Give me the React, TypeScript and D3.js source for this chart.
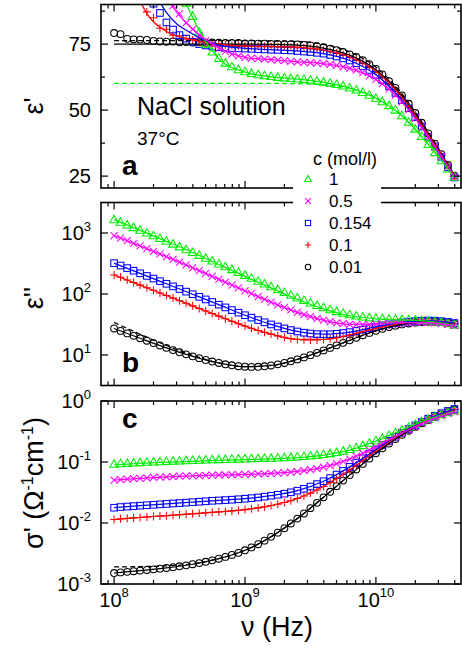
import React from 'react';
import * as d3 from 'd3';

// Measured frequencies (GHz), 20 points per decade
const FREQ_GHZ = [
  0.1, 0.112, 0.126, 0.141, 0.158, 0.178, 0.2, 0.224, 0.251, 0.282, 0.316, 0.355, 0.398, 0.447, 0.501, 0.562, 0.631, 0.708, 0.794, 0.891,
  1, 1.12, 1.26, 1.41, 1.58, 1.78, 2, 2.24, 2.51, 2.82, 3.16, 3.55, 3.98, 4.47, 5.01, 5.62, 6.31, 7.08, 7.94, 8.91,
  10, 11.2, 12.6, 14.1, 15.8, 17.8, 20, 22.4, 25.1, 28.2, 31.6, 35.5, 39.8,
];
// Frequencies at which the model curves are tabulated (GHz)
const FIT_GHZ = [0.1, 0.158, 0.251, 0.398, 0.631, 1, 1.58, 2.51, 3.98, 6.31, 10, 15.8, 25.1, 39.8];

// Concentrations (mol/l)
const CONC = ['1', '0.5', '0.154', '0.1', '0.01'];

// ---- eps' (real permittivity) ----
const EPS1_1 = [380, 310, 255, 210, 175, 148, 127, 112, 104, 99, 94.5, 90.5, 85.5, 79.5, 75.0, 72.0, 69.6, 67.8, 66.4, 65.3,
  64.5, 63.9, 63.4, 63.0, 62.7, 62.4, 62.2, 62.0, 61.8, 61.6, 61.3, 61.0, 60.6, 60.2, 59.7, 59.1, 58.4, 57.6, 56.7, 55.6,
  54.5, 53.2, 51.7, 50.0, 47.9, 45.4, 42.8, 40.0, 37.0, 33.9, 30.8, 27.7, 24.6];
const EPS1_05 = [160, 145, 132, 121, 112, 105, 99, 95, 92, 89.6, 86.5, 83.0, 80.6, 78.2, 76.3, 74.9, 73.3, 72.2, 71.2, 70.5,
  70.0, 69.7, 69.5, 69.3, 69.1, 68.9, 68.7, 68.5, 68.3, 68.1, 67.9, 67.8, 67.6, 67.3, 66.9, 66.4, 65.8, 65.1, 64.2, 63.0,
  61.6, 60.0, 58.0, 55.7, 53.1, 50.2, 47.0, 43.5, 39.9, 36.2, 32.4, 28.6, 24.8];
const EPS1_0154 = [135, 124, 114, 106, 99, 94, 90.3, 86.8, 83.2, 80.5, 78.4, 77.1, 75.9, 75.0, 74.5, 74.1, 73.8, 73.6, 73.5, 73.4,
  73.3, 73.2, 73.1, 73.0, 72.9, 72.8, 72.7, 72.6, 72.4, 72.2, 72.0, 71.7, 71.4, 70.9, 70.3, 69.6, 68.8, 67.8, 66.6, 65.2,
  63.4, 61.4, 59.0, 56.5, 53.8, 50.7, 47.3, 43.8, 39.9, 36.2, 32.3, 28.3, 24.5];
const EPS1_01 = [118, 109, 101, 95, 91.3, 87.2, 85.0, 81.0, 80.6, 78.4, 78.2, 77.0, 76.6, 75.8, 75.6, 75.1, 74.9, 74.8, 74.5, 74.4,
  74.3, 74.2, 74.2, 74.1, 74.1, 74.0, 74.0, 73.9, 73.8, 73.6, 73.4, 73.1, 72.7, 72.2, 71.6, 71.0, 70.1, 69.1, 67.9, 66.4,
  64.7, 62.6, 60.1, 57.6, 54.8, 51.7, 48.2, 44.6, 40.6, 36.8, 32.9, 28.8, 24.9];
const EPS1_001 = [79.2, 78.8, 77.0, 76.8, 76.7, 76.6, 76.2, 76.0, 75.9, 76.0, 75.7, 75.8, 75.6, 75.7, 75.5, 75.6, 75.5, 75.4, 75.4, 75.4,
  75.3, 75.3, 75.2, 75.2, 75.1, 75.1, 75.0, 75.0, 74.9, 74.7, 74.5, 74.2, 73.8, 73.3, 72.7, 72.0, 71.1, 70.1, 68.9, 67.4,
  65.6, 63.5, 61.0, 58.4, 55.6, 52.4, 48.9, 45.2, 41.2, 37.3, 33.3, 29.2, 25.2];

// ---- eps'' (dielectric loss) ----
const EPS2_1 = [1654, 1498, 1357, 1225, 1107, 999, 900, 812, 731, 657, 592, 533, 479, 430, 386, 347, 311, 279, 251, 225,
  202, 181, 162, 146, 131, 118, 106, 95.6, 86.3, 78.2, 71.2, 65.0, 59.7, 55.2, 51.4, 48.3, 45.6, 43.5, 42.0, 40.9,
  40.0, 39.4, 38.8, 38.4, 38.0, 37.6, 37.2, 36.7, 36.0, 35.1, 34.0, 32.6, 30.9];
const EPS2_05 = [908, 825, 749, 679, 614, 555, 502, 454, 409, 369, 332, 299, 269, 241, 217, 194, 174, 156, 140, 126,
  113, 101, 90.8, 81.7, 73.6, 66.5, 60.2, 54.7, 50.0, 45.9, 42.5, 39.6, 37.2, 35.1, 33.7, 32.6, 31.8, 31.5, 31.4, 31.6,
  32.0, 32.5, 32.9, 33.3, 33.8, 34.0, 34.2, 34.3, 34.1, 33.6, 32.8, 31.6, 30.2];
const EPS2_0154 = [320.3, 292.8, 265.6, 240.8, 218.3, 197.7, 179.1, 162.4, 147.1, 133.3, 120.7, 109.4, 99.1, 89.9, 81.5, 74.0, 66.8, 60.3, 54.5, 49.4,
  44.9, 41.0, 37.4, 34.4, 31.7, 29.3, 27.3, 25.6, 24.3, 23.2, 22.5, 22.0, 21.9, 21.9, 22.3, 22.9, 23.7, 24.8, 26.0, 27.5,
  28.9, 30.5, 31.8, 33.1, 34.2, 35.1, 35.9, 36.4, 36.7, 36.5, 35.8, 34.8, 33.4];
const EPS2_01 = [205.2, 187.7, 170.2, 154.4, 139.9, 126.9, 114.9, 104.2, 94.5, 85.6, 77.6, 70.4, 63.9, 58.0, 52.7, 48.0, 43.4, 39.3, 35.8, 32.6,
  29.8, 27.4, 25.3, 23.5, 22.0, 20.6, 19.5, 18.7, 18.0, 17.7, 17.6, 17.6, 18.0, 18.5, 19.2, 20.1, 21.3, 22.6, 24.1, 25.7,
  27.4, 29.1, 30.6, 32.0, 33.3, 34.3, 35.1, 35.7, 36.1, 35.9, 35.4, 34.4, 33.0];
const EPS2_001 = [27.2, 24.8, 22.6, 20.6, 18.8, 17.15, 15.67, 14.32, 13.12, 12.04, 11.09, 10.26, 9.52, 8.87, 8.30, 7.81, 7.40, 7.05, 6.78, 6.54,
  6.42, 6.37, 6.41, 6.53, 6.73, 7.02, 7.40, 7.89, 8.46, 9.14, 9.95, 10.85, 11.9, 13.06, 14.39, 15.83, 17.43, 19.17, 21.04, 23.0,
  24.96, 26.92, 28.69, 30.25, 31.73, 32.9, 33.88, 34.66, 35.09, 35.07, 34.58, 33.67, 32.39];

// ---- sigma' (conductivity, 1/(Ohm cm)) ----
const SIG_1 = [0.09201, 0.09352, 0.09502, 0.09632, 0.09763, 0.09884, 0.09995, 0.1011, 0.1021, 0.1031, 0.1041, 0.1052, 0.106, 0.1069, 0.1077, 0.1085, 0.1093, 0.11, 0.1108, 0.1115,
  0.1123, 0.113, 0.1138, 0.1146, 0.1155, 0.1166, 0.1178, 0.1191, 0.1207, 0.1227, 0.1252, 0.1283, 0.1323, 0.1372, 0.1433, 0.1508, 0.1601, 0.1716, 0.1856, 0.2025,
  0.2222, 0.2456, 0.2719, 0.3014, 0.335, 0.3716, 0.4121, 0.4564, 0.5034, 0.5511, 0.5978, 0.643, 0.6851];
const SIG_05 = [0.05051, 0.05152, 0.05242, 0.05333, 0.05413, 0.05494, 0.05575, 0.05646, 0.05718, 0.0578, 0.05843, 0.05897, 0.05951, 0.05997, 0.06043, 0.06082, 0.06123, 0.06157, 0.06195, 0.06226,
  0.06263, 0.06308, 0.06361, 0.06416, 0.06484, 0.0657, 0.06678, 0.06815, 0.06985, 0.07197, 0.07468, 0.07801, 0.08221, 0.0874, 0.0939, 0.1019, 0.1118, 0.124, 0.1388, 0.1568,
  0.1778, 0.2026, 0.2306, 0.2618, 0.2975, 0.3365, 0.3795, 0.4266, 0.4765, 0.5272, 0.5769, 0.6248, 0.6696];
const SIG_0154 = [0.01781, 0.01828, 0.0186, 0.01892, 0.01925, 0.01956, 0.01989, 0.02022, 0.02054, 0.02089, 0.02123, 0.0216, 0.02195, 0.02233, 0.02271, 0.02313, 0.02343, 0.02373, 0.02409, 0.0245,
  0.02499, 0.02557, 0.02622, 0.02702, 0.02798, 0.029, 0.03027, 0.03187, 0.03387, 0.03637, 0.03955, 0.04347, 0.04842, 0.05452, 0.06216, 0.07156, 0.08323, 0.09753, 0.115, 0.1362,
  0.1609, 0.19, 0.223, 0.2598, 0.3018, 0.3476, 0.3982, 0.4536, 0.5124, 0.572, 0.6304, 0.6868, 0.7395];
const SIG_01 = [0.01141, 0.01172, 0.01192, 0.01213, 0.01234, 0.01255, 0.01276, 0.01297, 0.01319, 0.01342, 0.01365, 0.0139, 0.01415, 0.01441, 0.01469, 0.01499, 0.01523, 0.01549, 0.01579, 0.01614,
  0.01657, 0.01708, 0.01769, 0.01843, 0.01933, 0.02035, 0.02162, 0.02322, 0.02522, 0.02772, 0.0309, 0.03482, 0.03977, 0.04587, 0.05351, 0.06291, 0.07458, 0.08888, 0.1064, 0.1275,
  0.1522, 0.1814, 0.2143, 0.2511, 0.2931, 0.3389, 0.3895, 0.4449, 0.5037, 0.5633, 0.6217, 0.6781, 0.7308];
const SIG_001 = [0.001514, 0.001549, 0.001583, 0.001619, 0.001657, 0.001697, 0.001739, 0.001783, 0.001832, 0.001888, 0.001951, 0.002025, 0.002108, 0.002203, 0.002313, 0.002444, 0.002598, 0.002778, 0.002994, 0.003244,
  0.003569, 0.003979, 0.004486, 0.005128, 0.005932, 0.006946, 0.008216, 0.009819, 0.01182, 0.01432, 0.0175, 0.02142, 0.02637, 0.03247, 0.04011, 0.04951, 0.06118, 0.07548, 0.09299, 0.1141,
  0.1388, 0.168, 0.2009, 0.2377, 0.2797, 0.3255, 0.3761, 0.4315, 0.4903, 0.5499, 0.6083, 0.6647, 0.7174];

// ---- model curves (solid) and alternative model (dashed), tabulated at FIT_GHZ ----
const FIT1_1 = [420, 185, 112, 85.2, 69.5, 64.4, 62.6, 61.7, 60.5, 58.3, 54.5, 47.9, 37.0, 24.6];
const FIT1_05 = [180, 118, 93, 80.8, 73.6, 70.0, 69.1, 68.3, 67.6, 65.8, 61.6, 53.1, 39.9, 24.8];
const FIT1_0154 = [150, 108, 87, 78.8, 74.6, 73.4, 72.9, 72.4, 71.4, 68.8, 63.4, 53.8, 39.9, 24.5];
const FIT1_01 = [128, 91.5, 79.8, 76.6, 75.0, 74.3, 74.1, 73.8, 72.7, 70.1, 64.7, 54.8, 40.6, 24.9];
const FIT1_001 = [75.0, 75.0, 75.0, 75.0, 75.0, 75.0, 74.9, 74.6, 73.5, 70.8, 65.3, 55.4, 41.0, 25.1];
const DASH1_1 = [60.1, 60.1, 60.1, 60.1, 60.1, 60.1, 60.1, 60.0, 59.6, 58.3, 54.5, 47.9, 37.0, 24.6];
const DASH1_001 = [76.3, 76.3, 76.3, 76.3, 76.3, 76.3, 76.2, 76.0, 74.9, 72.0, 66.3, 56.2, 41.6, 25.4];

const FIT2_1 = [1654, 1107, 731, 479, 305, 195, 126, 82, 57, 44, 39.2, 37.6, 35.8, 30.9];
const FIT2_05 = [908, 614, 409, 269, 174, 113, 73.6, 50.0, 37.2, 31.8, 32.0, 33.8, 34.1, 30.2];
const FIT2_0154 = [320, 218, 147, 99.1, 66.8, 44.9, 31.7, 24.3, 21.9, 23.7, 28.9, 34.2, 36.7, 33.4];
const FIT2_01 = [205, 140, 94.5, 63.9, 43.4, 29.8, 22.0, 18.0, 18.0, 21.3, 27.4, 33.3, 36.1, 33.0];
const FIT2_001 = [27.2, 18.8, 13.1, 9.52, 7.40, 6.42, 6.73, 8.46, 11.9, 17.4, 25.0, 31.7, 35.1, 32.4];
const DASH2_001 = [34.2, 21.9, 14.3, 9.9, 7.45, 6.45, 6.73, 8.46, 11.9, 17.4, 25.0, 31.7, 35.1, 32.4];

const FITS_1 = [0.0893, 0.0947, 0.099, 0.1028, 0.106, 0.109, 0.112, 0.118, 0.13, 0.157, 0.22, 0.335, 0.503, 0.685];
const FITS_05 = [0.0505, 0.0541, 0.0572, 0.0595, 0.0612, 0.0626, 0.0648, 0.0699, 0.0822, 0.1118, 0.1778, 0.2975, 0.4765, 0.6696];
const FITS_0154 = [0.0178, 0.01925, 0.02054, 0.02195, 0.02343, 0.02499, 0.02798, 0.03387, 0.04842, 0.08323, 0.1609, 0.3018, 0.5124, 0.7395];
const FITS_01 = [0.0114, 0.01234, 0.01319, 0.01415, 0.01523, 0.01657, 0.01933, 0.02522, 0.03977, 0.07458, 0.1522, 0.2931, 0.5037, 0.7308];
const FITS_001 = [0.001514, 0.001657, 0.001832, 0.002108, 0.002598, 0.003569, 0.005932, 0.01182, 0.02637, 0.06118, 0.1388, 0.2797, 0.4903, 0.7174];
const DASHS_001 = [0.0019, 0.00193, 0.00198, 0.00214, 0.00261, 0.003569, 0.005932, 0.01182, 0.02637, 0.06118, 0.1388, 0.2797, 0.4903, 0.7174];

// Axis ticks
const X_MAJOR_GHZ = [0.1, 1, 10];
const X_MAJOR_EXP = ['8', '9', '10'];
const X_MINOR_MULT = [2, 3, 4, 5, 6, 7, 8, 9];
const X_DECADES_GHZ = [0.01, 0.1, 1, 10];
const A_MAJOR = [25, 50, 75];
const A_MINOR = [37.5, 62.5, 87.5];
const B_EXP = [1, 2, 3];
const C_EXP = [-3, -2, -1, 0];

type Shape = 'triangle' | 'cross' | 'square' | 'plus' | 'circle';

const FONT = "'Liberation Sans', Arial, Helvetica, sans-serif";
const X0 = 101;
const X1 = 461;
const PA = { top: 4.5, bottom: 188 };
const PB = { top: 202.5, bottom: 385.5 };
const PC = { top: 401, bottom: 584 };

function Mark({ shape, cx, cy, color, k = 1 }: { shape: Shape; cx: number; cy: number; color: string; k?: number }) {
  const common = { fill: 'none', stroke: color, strokeWidth: 1.05 };
  if (shape === 'circle') return <circle cx={cx} cy={cy} r={3.4 * k} {...common} />;
  if (shape === 'triangle')
    return <path d={`M${cx},${cy - 4.5 * k}L${cx + 4.3 * k},${cy + 3 * k}L${cx - 4.3 * k},${cy + 3 * k}Z`} {...common} />;
  if (shape === 'square')
    return <rect x={cx - 3.3 * k} y={cy - 3.3 * k} width={6.6 * k} height={6.6 * k} {...common} />;
  if (shape === 'cross') {
    const s = 3.5 * k;
    return <path d={`M${cx - s},${cy - s}L${cx + s},${cy + s}M${cx - s},${cy + s}L${cx + s},${cy - s}`} {...common} />;
  }
  const s = 4 * k;
  return <path d={`M${cx - s},${cy}H${cx + s}M${cx},${cy - s}V${cy + s}`} {...common} />;
}

export default function App() {
  const x = d3.scaleLog().domain([10 ** -1.1, 10 ** 1.65]).range([X0, X1]);
  const yA = d3.scaleLinear().domain([20.5, 90]).range([PA.bottom, PA.top]);
  const yB = d3.scaleLog().domain([10 ** 0.5, 10 ** 3.5]).range([PB.bottom, PB.top]);
  const yC = d3.scaleLog().domain([1e-3, 1]).range([PC.bottom, PC.top]);

  const series = [
    { label: CONC[4], color: '#000000', shape: 'circle' as Shape, e1: EPS1_001, e2: EPS2_001, s: SIG_001, f1: FIT1_001, f2: FIT2_001, fs: FITS_001 },
    { label: CONC[3], color: '#ff0000', shape: 'plus' as Shape, e1: EPS1_01, e2: EPS2_01, s: SIG_01, f1: FIT1_01, f2: FIT2_01, fs: FITS_01 },
    { label: CONC[2], color: '#0000ff', shape: 'square' as Shape, e1: EPS1_0154, e2: EPS2_0154, s: SIG_0154, f1: FIT1_0154, f2: FIT2_0154, fs: FITS_0154 },
    { label: CONC[0], color: '#00ee00', shape: 'triangle' as Shape, e1: EPS1_1, e2: EPS2_1, s: SIG_1, f1: FIT1_1, f2: FIT2_1, fs: FITS_1 },
    { label: CONC[1], color: '#ff00ff', shape: 'cross' as Shape, e1: EPS1_05, e2: EPS2_05, s: SIG_05, f1: FIT1_05, f2: FIT2_05, fs: FITS_05 },
  ];
  const legendOrder = [3, 4, 2, 1, 0];

  const path = (vals: number[], ys: (v: number) => number) =>
    d3.line<number>().x((_, i) => x(FIT_GHZ[i])).y((v) => ys(v)).curve(d3.curveMonotoneX)(vals) || '';

  const xMinor: number[] = [];
  X_DECADES_GHZ.forEach((d) =>
    X_MINOR_MULT.forEach((m) => {
      const v = d * m;
      const px = x(v);
      if (px > X0 + 2 && px < X1 - 2) xMinor.push(v);
    })
  );

  const frame = (p: { top: number; bottom: number }, yMaj: number[], yMin: number[]) => (
    <g stroke="#000" strokeWidth={1.2}>
      {X_MAJOR_GHZ.map((v) => (
        <g key={'M' + v}>
          <line x1={x(v)} x2={x(v)} y1={p.bottom} y2={p.bottom - 7} />
          <line x1={x(v)} x2={x(v)} y1={p.top} y2={p.top + 7} />
        </g>
      ))}
      {xMinor.map((v) => (
        <g key={'m' + v}>
          <line x1={x(v)} x2={x(v)} y1={p.bottom} y2={p.bottom - 4} />
          <line x1={x(v)} x2={x(v)} y1={p.top} y2={p.top + 4} />
        </g>
      ))}
      {yMaj.map((py, i) => (
        <g key={'Y' + i}>
          <line x1={X0} x2={X0 + 7} y1={py} y2={py} />
          <line x1={X1} x2={X1 - 7} y1={py} y2={py} />
        </g>
      ))}
      {yMin.map((py, i) => (
        <g key={'y' + i}>
          <line x1={X0} x2={X0 + 4} y1={py} y2={py} />
          <line x1={X1} x2={X1 - 4} y1={py} y2={py} />
        </g>
      ))}
      <rect x={X0} y={p.top} width={X1 - X0} height={p.bottom - p.top} fill="none" strokeWidth={1.6} />
    </g>
  );

  const panelData = (key: 'e1' | 'e2' | 's', ys: (v: number) => number, clip: string) => (
    <g clipPath={`url(#${clip})`}>
      {series.map((s) => (
        <g key={s.label}>
          {s[key].map((v, i) => (
            <Mark key={i} shape={s.shape} cx={x(FREQ_GHZ[i])} cy={ys(v)} color={s.color} />
          ))}
        </g>
      ))}
    </g>
  );

  const panelLines = (
    key: 'f1' | 'f2' | 'fs',
    ys: (v: number) => number,
    clip: string,
    dashed: { vals: number[]; color: string }[]
  ) => (
    <g clipPath={`url(#${clip})`} fill="none">
      {dashed.map((d, i) => (
        <path key={'d' + i} d={path(d.vals, ys)} stroke={d.color} strokeWidth={1.25} strokeDasharray="5,3" />
      ))}
      {series.map((s) => (
        <path key={s.label} d={path(s[key], ys)} stroke={s.color} strokeWidth={1.25} />
      ))}
    </g>
  );

  const green = series[3].color;

  return (
    <svg
      width={462}
      height={655}
      style={{ position: 'absolute', left: 0, top: 0, background: '#fff' }}
      fontFamily={FONT}
    >
      <defs>
        <clipPath id="clipA"><rect x={X0} y={PA.top} width={X1 - X0} height={PA.bottom - PA.top} /></clipPath>
        <clipPath id="clipB"><rect x={X0} y={PB.top} width={X1 - X0} height={PB.bottom - PB.top} /></clipPath>
        <clipPath id="clipC"><rect x={X0} y={PC.top} width={X1 - X0} height={PC.bottom - PC.top} /></clipPath>
      </defs>
      <rect x={0} y={0} width={462} height={655} fill="#fff" />

      {/* panel a: eps' */}
      {panelData('e1', yA, 'clipA')}
      {panelLines('f1', yA, 'clipA', [
        { vals: DASH1_001, color: '#000' },
        { vals: DASH1_1, color: green },
      ])}
      {frame(PA, A_MAJOR.map((v) => yA(v)), A_MINOR.map((v) => yA(v)))}
      {A_MAJOR.map((v) => (
        <text key={v} x={91} y={yA(v) + 7} textAnchor="end" fontSize={20}>{v}</text>
      ))}

      {/* panel b: eps'' */}
      {panelData('e2', yB, 'clipB')}
      {panelLines('f2', yB, 'clipB', [{ vals: DASH2_001, color: '#000' }])}
      {frame(PB, B_EXP.map((e) => yB(10 ** e)), [])}
      {B_EXP.map((e) => (
        <text key={e} x={91} y={yB(10 ** e) + 7} textAnchor="end" fontSize={20}>
          10<tspan dy={-9} fontSize={13}>{e}</tspan>
        </text>
      ))}

      {/* panel c: sigma' */}
      {panelData('s', yC, 'clipC')}
      {panelLines('fs', yC, 'clipC', [{ vals: DASHS_001, color: '#000' }])}
      {frame(PC, C_EXP.map((e) => yC(10 ** e)), [])}
      {C_EXP.map((e) => (
        <text key={e} x={91} y={yC(10 ** e) + 7} textAnchor="end" fontSize={20}>
          10<tspan dy={-9} fontSize={13}>{e}</tspan>
        </text>
      ))}

      {/* x tick labels */}
      {X_MAJOR_GHZ.map((v, i) => (
        <text key={v} x={x(v)} y={607} textAnchor="middle" fontSize={20}>
          10<tspan dy={-10} fontSize={13}>{X_MAJOR_EXP[i]}</tspan>
        </text>
      ))}

      {/* axis titles */}
      <text x={277} y={636} textAnchor="middle" fontSize={27}>ν (Hz)</text>
      <text transform="translate(43,106) rotate(-90)" textAnchor="middle" fontSize={27}>ε'</text>
      <text transform="translate(43,298) rotate(-90)" textAnchor="middle" fontSize={27}>ε''</text>
      <text transform="translate(43,483) rotate(-90)" textAnchor="middle" fontSize={27}>
        σ' (Ω<tspan dy={-10} fontSize={16}>-1</tspan>
        <tspan dy={10}>cm</tspan>
        <tspan dy={-10} fontSize={16}>-1</tspan>
        <tspan dy={10}>)</tspan>
      </text>

      {/* annotations */}
      <text x={137} y={115} fontSize={25}>NaCl solution</text>
      <text x={137} y={145} fontSize={19}>37°C</text>
      <text x={122} y={175} fontSize={28} fontWeight="bold">a</text>
      <text x={122} y={372} fontSize={28} fontWeight="bold">b</text>
      <text x={122} y={428} fontSize={28} fontWeight="bold">c</text>

      {/* legend */}
      <g>
        <rect x={293} y={150} width={88} height={128} fill="#fff" />
        <text x={313} y={165} fontSize={18}>c (mol/l)</text>
        {legendOrder.map((si, row) => {
          const s = series[si];
          const base = 185 + row * 22;
          return (
            <g key={s.label}>
              <Mark shape={s.shape} cx={308} cy={base - 6} color={s.color} k={0.8} />
              <text x={329} y={base} fontSize={17}>{s.label}</text>
            </g>
          );
        })}
      </g>
    </svg>
  );
}
